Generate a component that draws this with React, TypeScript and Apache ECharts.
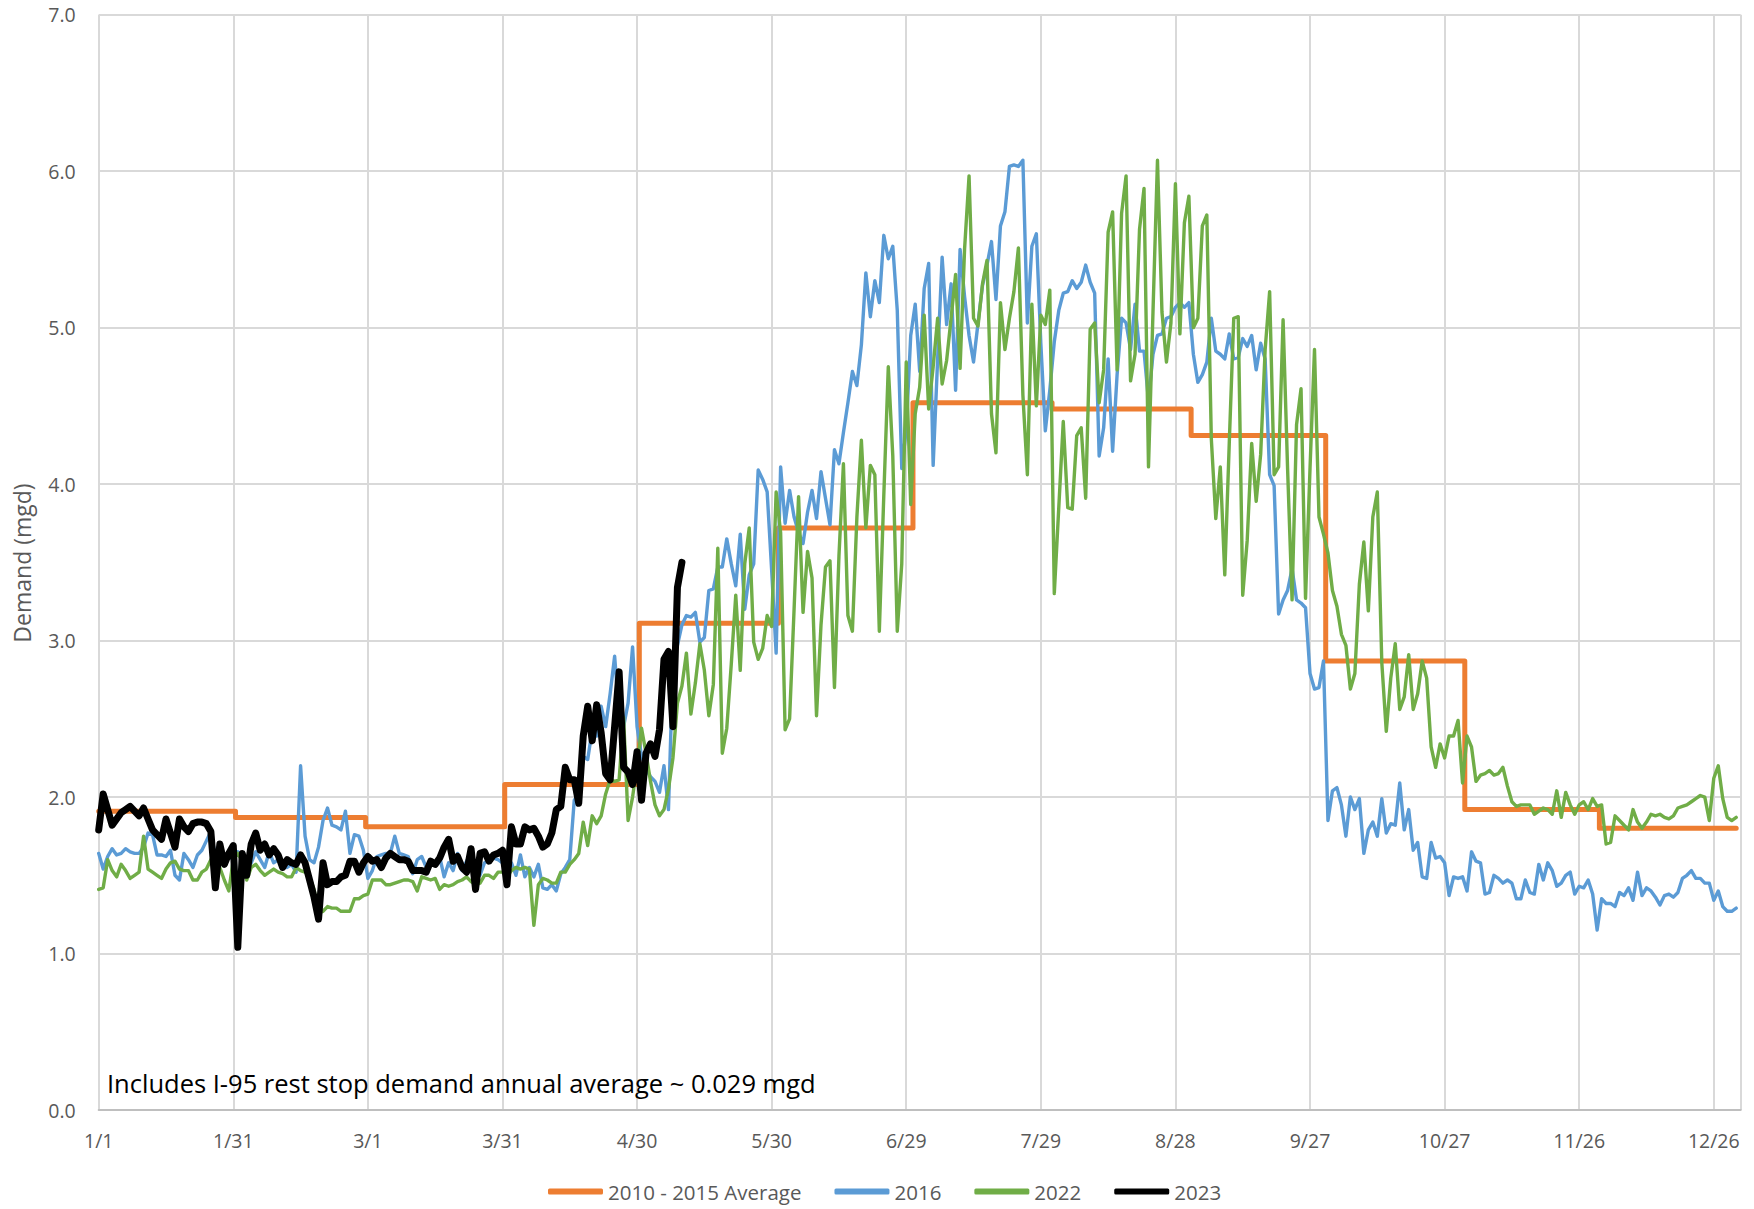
import React, { useEffect, useRef } from "react";
import * as echarts from "echarts";

// ---- Data ----
const seriesNames = ["2010 - 2015 Average", "2016", "2022", "2023"];
const seriesColors = ["#ED7D31", "#5B9BD5", "#70AD47", "#000000"];
const seriesWidths = [5, 3.4, 3.4, 7];

const xTickLabels = ["1/1", "1/31", "3/1", "3/31", "4/30", "5/30", "6/29", "7/29", "8/28", "9/27", "10/27", "11/26", "12/26"];
const yTickLabels = ["0.0", "1.0", "2.0", "3.0", "4.0", "5.0", "6.0", "7.0"];

// days per month of the (leap) year used on the x axis
const monthLengths = [31, 29, 31, 30, 31, 30, 31, 31, 30, 31, 30, 31];

// 2010 - 2015 monthly average demand (mgd)
const avgMonthly = [1.91, 1.87, 1.81, 2.08, 3.11, 3.72, 4.52, 4.48, 4.31, 2.87, 1.92, 1.8];

// 2016 daily demand (mgd), day 0 = 1/1
const demand2016 = [
  1.64, 1.54, 1.62, 1.67, 1.63, 1.64, 1.67, 1.65, 1.64, 1.64,
  1.68, 1.77, 1.76, 1.63, 1.63, 1.62, 1.66, 1.5, 1.47, 1.64,
  1.6, 1.55, 1.63, 1.66, 1.72, 1.78, 1.62, 1.6, 1.58, 1.62,
  1.6, 1.65, 1.62, 1.55, 1.58, 1.65, 1.6, 1.55, 1.65, 1.58,
  1.6, 1.58, 1.55, 1.57, 1.52, 2.2, 1.75, 1.6, 1.58, 1.68,
  1.85, 1.93, 1.82, 1.81, 1.79, 1.91, 1.64, 1.76, 1.75, 1.66,
  1.48, 1.53, 1.62, 1.63, 1.64, 1.64, 1.75, 1.64, 1.63, 1.62,
  1.51, 1.6, 1.62, 1.55, 1.59, 1.58, 1.62, 1.49, 1.58, 1.53,
  1.64, 1.53, 1.59, 1.64, 1.51, 1.5, 1.58, 1.6, 1.61, 1.6,
  1.58, 1.54, 1.58, 1.5, 1.63, 1.49, 1.55, 1.49, 1.57, 1.42,
  1.41, 1.44, 1.4, 1.51, 1.55, 1.6, 1.98, 2.02, 2.26, 2.24,
  2.43, 2.39, 2.58, 2.45, 2.66, 2.9, 2.52, 2.45, 2.6, 2.96,
  2.45, 2.26, 2.18, 2.13, 2.1, 2.03, 2.2, 1.92, 2.85, 2.97,
  3.1, 3.16, 3.15, 3.18, 2.99, 3.02, 3.32, 3.33, 3.47, 3.47,
  3.65, 3.49, 3.35, 3.68, 3.2, 3.42, 3.49, 4.09, 4.03, 3.95,
  3.45, 2.92, 4.11, 3.75, 3.96, 3.79, 3.69, 3.62, 3.82, 3.96,
  3.78, 4.08, 3.91, 3.74, 4.22, 4.13, 4.33, 4.52, 4.72, 4.63,
  4.89, 5.35, 5.07, 5.3, 5.16, 5.59, 5.44, 5.52, 5.11, 4.1,
  4.35, 4.95, 5.15, 4.72, 5.25, 5.41, 4.12, 4.8, 5.45, 5.02,
  5.28, 4.6, 5.5, 5.2, 4.95, 4.78, 5.03, 5.27, 5.4, 5.55,
  5.18, 5.65, 5.74, 6.03, 6.04, 6.03, 6.07, 5.03, 5.52, 5.6,
  4.9, 4.34, 4.6, 4.91, 5.11, 5.22, 5.23, 5.3, 5.25, 5.29,
  5.4, 5.29, 5.22, 4.18, 4.36, 4.8, 4.21, 4.7, 5.06, 5.03,
  4.86, 5.15, 4.85, 4.85, 4.53, 4.83, 4.95, 4.96, 5.06, 5.07,
  5.13, 5.16, 5.13, 5.16, 4.83, 4.65, 4.7, 4.78, 5.06, 4.85,
  4.83, 4.8, 4.96, 4.8, 4.81, 4.93, 4.88, 4.95, 4.73, 4.9,
  4.8, 4.06, 3.99, 3.17, 3.26, 3.32, 3.46, 3.26, 3.24, 3.21,
  2.79, 2.69, 2.7, 2.87, 1.85, 2.04, 2.06, 1.95, 1.75, 2.0,
  1.92, 1.99, 1.64, 1.79, 1.84, 1.75, 1.99, 1.77, 1.83, 1.82,
  2.09, 1.79, 1.92, 1.66, 1.71, 1.49, 1.48, 1.71, 1.61, 1.62,
  1.58, 1.37, 1.49, 1.48, 1.49, 1.4, 1.65, 1.59, 1.58, 1.38,
  1.39, 1.5, 1.48, 1.45, 1.47, 1.45, 1.35, 1.35, 1.47, 1.39,
  1.38, 1.57, 1.47, 1.58, 1.53, 1.43, 1.45, 1.5, 1.52, 1.38,
  1.43, 1.42, 1.47, 1.38, 1.15, 1.35, 1.32, 1.32, 1.3, 1.39,
  1.37, 1.42, 1.34, 1.52, 1.37, 1.42, 1.4, 1.36, 1.31, 1.37,
  1.38, 1.36, 1.39, 1.48, 1.5, 1.53, 1.48, 1.48, 1.45, 1.45,
  1.34, 1.4, 1.3, 1.27, 1.27, 1.29,
];

// 2022 daily demand (mgd)
const demand2022 = [
  1.41, 1.42, 1.6, 1.53, 1.49, 1.57, 1.53, 1.48, 1.5, 1.52,
  1.75, 1.54, 1.52, 1.5, 1.48, 1.54, 1.58, 1.59, 1.54, 1.53,
  1.53, 1.47, 1.47, 1.52, 1.54, 1.6, 1.55, 1.55, 1.47, 1.4,
  1.6, 1.64, 1.59, 1.47, 1.55, 1.57, 1.53, 1.5, 1.52, 1.54,
  1.52, 1.51, 1.49, 1.49, 1.55, 1.53, 1.52, 1.49, 1.41, 1.26,
  1.27, 1.3, 1.29, 1.29, 1.27, 1.27, 1.27, 1.35, 1.35, 1.37,
  1.38, 1.47, 1.47, 1.47, 1.44, 1.44, 1.45, 1.46, 1.47, 1.47,
  1.46, 1.4, 1.49, 1.48, 1.47, 1.48, 1.41, 1.44, 1.43, 1.44,
  1.46, 1.47, 1.49, 1.46, 1.44, 1.45, 1.5, 1.5, 1.48, 1.52,
  1.52, 1.49, 1.53, 1.55, 1.54, 1.55, 1.54, 1.18, 1.44, 1.48,
  1.47, 1.45, 1.45, 1.52, 1.52, 1.57, 1.6, 1.64, 1.84, 1.69,
  1.88, 1.83, 1.88, 2.02, 2.11, 2.1, 2.11, 2.51, 1.85, 2.0,
  2.2, 2.44, 2.28, 2.1, 1.95, 1.88, 1.92, 2.05, 2.25, 2.6,
  2.71, 2.92, 2.53, 2.73, 2.98, 2.81, 2.52, 2.72, 3.59, 2.28,
  2.44, 2.85, 3.29, 2.81, 3.49, 3.72, 2.99, 2.88, 2.95, 3.16,
  3.09, 3.95, 3.69, 2.43, 2.5, 3.2, 3.92, 3.18, 3.57, 3.4,
  2.52, 3.1, 3.47, 3.51, 2.7, 3.54, 4.13, 3.16, 3.06, 3.79,
  4.28, 3.72, 4.12, 4.06, 3.06, 3.93, 4.75, 4.18, 3.06, 3.49,
  4.78, 3.87, 4.45, 4.62, 5.08, 4.48, 4.75, 5.06, 4.64, 4.79,
  5.06, 5.34, 4.74, 5.5, 5.97, 5.06, 5.01, 5.28, 5.43, 4.45,
  4.2, 5.16, 4.86, 5.06, 5.23, 5.51, 4.57, 4.06, 5.15, 4.5,
  5.08, 5.02, 5.24, 3.3, 3.85, 4.4, 3.85, 3.84, 4.31, 4.36,
  3.91, 4.99, 5.03, 4.52, 4.73, 5.61, 5.74, 4.73, 5.73, 5.97,
  4.66, 4.83, 5.63, 5.89, 4.11, 5.1, 6.07, 5.1, 4.78, 5.03,
  5.92, 4.96, 5.67, 5.84, 5.0, 5.06, 5.65, 5.72, 4.29, 3.78,
  4.11, 3.42, 4.26, 5.06, 5.07, 3.29, 3.64, 4.26, 3.89, 4.19,
  4.86, 5.23, 4.06, 4.11, 5.05, 4.1, 3.26, 4.38, 4.61, 3.27,
  4.1, 4.86, 3.79, 3.68, 3.56, 3.32, 3.22, 3.04, 2.97, 2.69,
  2.79, 3.36, 3.63, 3.19, 3.79, 3.95, 2.86, 2.42, 2.76, 2.98,
  2.56, 2.64, 2.91, 2.56, 2.66, 2.87, 2.76, 2.32, 2.19, 2.34,
  2.25, 2.39, 2.39, 2.49, 2.09, 2.39, 2.32, 2.1, 2.14, 2.15,
  2.17, 2.14, 2.15, 2.19, 2.07, 1.97, 1.94, 1.95, 1.95, 1.95,
  1.89, 1.91, 1.93, 1.92, 1.89, 2.04, 1.87, 2.03, 1.95, 1.89,
  1.95, 1.97, 1.92, 1.99, 1.94, 1.95, 1.7, 1.71, 1.88, 1.85,
  1.82, 1.79, 1.92, 1.84, 1.8, 1.84, 1.89, 1.88, 1.89, 1.87,
  1.86, 1.88, 1.93, 1.94, 1.95, 1.97, 1.99, 2.01, 2.0, 1.85,
  2.12, 2.2, 1.99, 1.87, 1.85, 1.87,
];

// 2023 daily demand (mgd), through early May
const demand2023 = [
  1.79, 2.02, 1.92, 1.82, 1.86, 1.9, 1.92, 1.94, 1.91, 1.88,
  1.93, 1.86, 1.79, 1.76, 1.73, 1.86, 1.77, 1.68, 1.86, 1.81,
  1.78, 1.83, 1.84, 1.84, 1.83, 1.78, 1.42, 1.7, 1.57, 1.64,
  1.69, 1.04, 1.64, 1.5, 1.7, 1.77, 1.66, 1.7, 1.63, 1.67,
  1.63, 1.55, 1.6, 1.58, 1.57, 1.63, 1.58, 1.47, 1.36, 1.22,
  1.58, 1.44, 1.46, 1.46, 1.49, 1.5, 1.59, 1.59, 1.52, 1.58,
  1.62, 1.59, 1.6, 1.55, 1.61, 1.64, 1.62, 1.6, 1.6, 1.59,
  1.53, 1.53, 1.53, 1.52, 1.59, 1.57, 1.61, 1.68, 1.73, 1.59,
  1.62, 1.55, 1.52, 1.67, 1.41, 1.64, 1.65, 1.59, 1.63, 1.64,
  1.66, 1.44, 1.81, 1.7, 1.7, 1.81, 1.79, 1.8, 1.75, 1.68,
  1.7, 1.77, 1.92, 1.94, 2.19, 2.11, 2.11, 1.96, 2.39, 2.58,
  2.36, 2.59, 2.41, 2.15, 2.11, 2.45, 2.8, 2.19, 2.16, 2.08,
  2.29, 1.98, 2.28, 2.34, 2.26, 2.43, 2.88, 2.93, 2.45, 3.34,
  3.5,
];

const noteText = "Includes I-95 rest stop demand annual average ~ 0.029 mgd";
const yAxisTitle = "Demand (mgd)";

const FONT = "'Open Sans', 'DejaVu Sans', sans-serif";

function toPairs(values: number[]): [number, number][] {
  return values.map((v, i) => [i, v]);
}

function monthlyToDaily(monthly: number[]): [number, number][] {
  const out: [number, number][] = [];
  let day = 0;
  monthly.forEach((v, m) => {
    for (let k = 0; k < monthLengths[m]; k++) {
      out.push([day, v]);
      day++;
    }
  });
  return out;
}

export default function App() {
  const ref = useRef<HTMLDivElement>(null);

  useEffect(() => {
    document.body.style.margin = "0";
    document.documentElement.style.overflow = "hidden";
    if (!ref.current) return;
    const chart = echarts.init(ref.current, undefined, { renderer: "svg" });

    const seriesData = [
      monthlyToDaily(avgMonthly),
      toPairs(demand2016),
      toPairs(demand2022),
      toPairs(demand2023),
    ];

    const option: any = {
      animation: false,
      backgroundColor: "#ffffff",
      grid: {
        left: 98.7,
        right: 13.3,
        top: 14.7,
        bottom: 99,
        containLabel: false,
        outerBoundsMode: "none",
      },
      xAxis: {
        type: "value",
        min: 0,
        max: 366,
        interval: 30,
        axisLine: { show: true, lineStyle: { color: "#bfbfbf", width: 2 } },
        axisTick: { show: false },
        splitLine: { show: true, lineStyle: { color: "#d9d9d9", width: 2 } },
        axisLabel: {
          margin: 20,
          fontFamily: FONT,
          fontSize: 19.5,
          color: "#595959",
          formatter: (v: number) => (v % 30 === 0 ? xTickLabels[v / 30] ?? "" : ""),
        },
      },
      yAxis: {
        type: "value",
        min: 0,
        max: 7,
        interval: 1,
        axisLine: { show: false },
        axisTick: { show: false },
        splitLine: { show: true, lineStyle: { color: "#d9d9d9", width: 2 } },
        axisLabel: {
          margin: 23,
          fontFamily: FONT,
          fontSize: 19.5,
          color: "#595959",
          formatter: (v: number) => yTickLabels[Math.round(v)] ?? "",
        },
      },
      legend: {
        left: 543,
        top: 1179,
        padding: [2, 5, 2, 5],
        itemWidth: 55,
        itemHeight: 6,
        itemGap: 33,
        icon: "roundRect",
        textStyle: { fontFamily: FONT, fontSize: 20.5, color: "#595959" },
        data: seriesNames,
      },
      graphic: [
        {
          type: "text",
          x: 107,
          y: 1083,
          z: 100,
          style: {
            text: noteText,
            fontFamily: FONT,
            fontSize: 25.5,
            fill: "#000000",
            align: "left",
            verticalAlign: "middle",
          },
        },
        {
          type: "text",
          x: 22,
          y: 563,
          z: 100,
          rotation: Math.PI / 2,
          style: {
            text: yAxisTitle,
            fontFamily: FONT,
            fontSize: 23,
            fill: "#595959",
            align: "center",
            verticalAlign: "middle",
          },
        },
      ],
      series: seriesNames.map((name, i) => ({
        name,
        type: "line",
        data: seriesData[i],
        showSymbol: false,
        symbol: "none",
        step: i === 0 ? "middle" : false,
        color: seriesColors[i],
        lineStyle: { color: seriesColors[i], width: seriesWidths[i], cap: "round", join: "round" },
        emphasis: { disabled: true },
        z: 2 + i,
      })),
    };

    chart.setOption(option);
    return () => chart.dispose();
  }, []);

  return <div ref={ref} style={{ width: 1754, height: 1209 }} />;
}
